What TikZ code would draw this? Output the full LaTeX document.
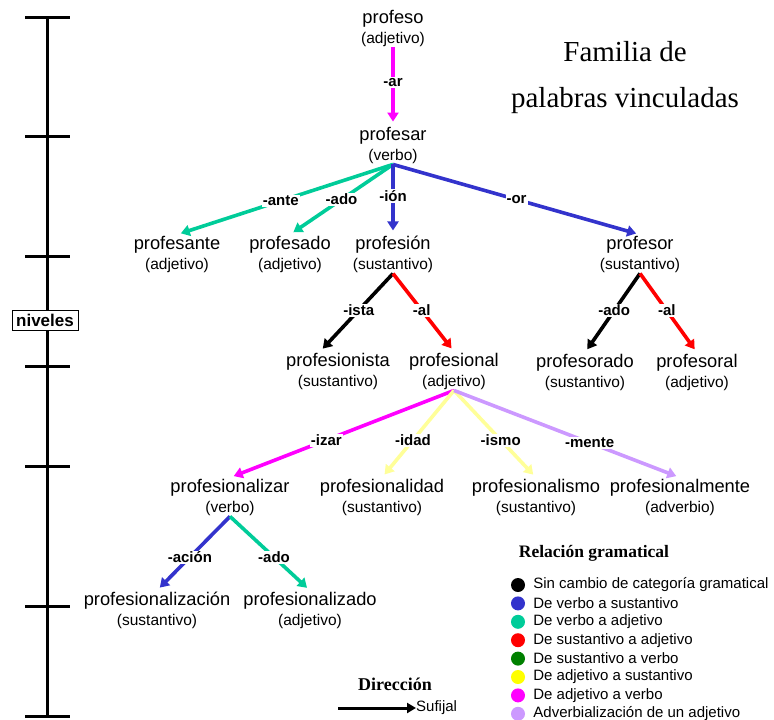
\documentclass[tikz,border=0pt]{standalone}
\usepackage{fontspec}
\setmainfont{Liberation Sans}
\newfontfamily\serif{Liberation Serif}
\usetikzlibrary{arrows.meta,positioning}
\definecolor{azul}{HTML}{3333CC}
\definecolor{turquesa}{HTML}{00CC99}
\definecolor{rojo}{HTML}{FF0000}
\definecolor{verde}{HTML}{008000}
\definecolor{amarillo}{HTML}{FFFF00}
\definecolor{amarillop}{HTML}{FFFF99}
\definecolor{magenta}{HTML}{FF00FF}
\definecolor{lila}{HTML}{CC99FF}
\newcommand{\pal}[2]{#1\\{\fontsize{15.5}{17}\selectfont (#2)}}

\begin{document}
\begin{tikzpicture}[x=1pt,y=-1pt,
    pal/.style={align=center, inner sep=1pt, font=\fontsize{18.3}{20}\selectfont},
    flecha/.style={line width=3.6pt, -{Triangle[length=9pt,width=11pt]}, shorten >=4pt},
    suf/.style={fill=white, text=black, inner sep=1pt, font=\bfseries\fontsize{15}{17}\selectfont},
    eje/.style={line width=3pt},
    dot/.style={circle, minimum size=14pt, inner sep=0pt},
    leyenda/.style={font=\fontsize{15}{17}\selectfont, inner sep=0pt}]
  \useasboundingbox (0,0) rectangle (774,720);

  \draw[eje] (47,17) -- (47,716);
  \draw[eje] (25,17) -- (70,17);
  \draw[eje] (25,136) -- (70,136);
  \draw[eje] (25,256) -- (70,256);
  \draw[eje] (25,366) -- (70,366);
  \draw[eje] (25,466) -- (70,466);
  \draw[eje] (25,606) -- (70,606);
  \draw[eje] (25,716) -- (70,716);
  \node[draw, fill=white, thin, inner xsep=4pt, inner ysep=4pt, font=\bfseries\fontsize{17}{19}\selectfont] (niveles) at (45,320) {niveles};

  \node[font=\serif\fontsize{29}{46}\selectfont, align=center] (titulo) at (625,78) {Familia de\\palabras vinculadas};

  \node[pal] (profeso) at (393,28) {\pal{profeso}{adjetivo}};
  \node[pal] (profesar) at (393,145) {\pal{profesar}{verbo}};
  \node[pal] (profesante) at (177,254) {\pal{profesante}{adjetivo}};
  \node[pal] (profesado) at (290,254) {\pal{profesado}{adjetivo}};
  \node[pal] (profesion) at (393,254) {\pal{profesión}{sustantivo}};
  \node[pal] (profesor) at (640,254) {\pal{profesor}{sustantivo}};
  \node[pal] (profesionista) at (338,371) {\pal{profesionista}{sustantivo}};
  \node[pal] (profesional) at (454,371) {\pal{profesional}{adjetivo}};
  \node[pal] (profesorado) at (585,372) {\pal{profesorado}{sustantivo}};
  \node[pal] (profesoral) at (697,372) {\pal{profesoral}{adjetivo}};
  \node[pal] (profesionalizar) at (230,497) {\pal{profesionalizar}{verbo}};
  \node[pal] (profesionalidad) at (382,497) {\pal{profesionalidad}{sustantivo}};
  \node[pal] (profesionalismo) at (536,497) {\pal{profesionalismo}{sustantivo}};
  \node[pal] (profesionalmente) at (680,497) {\pal{profesionalmente}{adverbio}};
  \node[pal] (profesionalizacion) at (157,610) {\pal{profesionalización}{sustantivo}};
  \node[pal] (profesionalizado) at (310,610) {\pal{profesionalizado}{adjetivo}};

  \draw[flecha, magenta] (profeso.south) -- node[suf, pos=.45] {-ar} (profesar.north);
  \draw[flecha, turquesa] (profesar.south) -- node[suf, pos=.52] {-ante} (profesante.north);
  \draw[flecha, turquesa] (profesar.south) -- node[suf, pos=.5] {-ado} (profesado.north);
  \draw[flecha, azul] (profesar.south) -- node[suf, pos=.45] {-ión} (profesion.north);
  \draw[flecha, azul] (profesar.south) -- node[suf, pos=.5] {-or} (profesor.north);
  \draw[flecha, black] (profesion.south) -- node[suf, pos=.47] {-ista} ([xshift=-18pt]profesionista.north);
  \draw[flecha, rojo] (profesion.south) -- node[suf, pos=.47] {-al} (profesional.north);
  \draw[flecha, black] (profesor.south) -- node[suf, pos=.47] {-ado} (profesorado.north);
  \draw[flecha, rojo] (profesor.south) -- node[suf, pos=.47] {-al} (profesoral.north);
  \draw[flecha, magenta] (profesional.south) -- node[suf, pos=.57] {-izar} (profesionalizar.north);
  \draw[flecha, amarillop] (profesional.south) -- node[suf, pos=.57] {-idad} (profesionalidad.north);
  \draw[flecha, amarillop] (profesional.south) -- node[suf, pos=.57] {-ismo} (profesionalismo.north);
  \draw[flecha, lila] (profesional.south) -- node[suf, pos=.6] {-mente} (profesionalmente.north);
  \draw[flecha, azul] (profesionalizar.south) -- node[suf, pos=.55] {-ación} (profesionalizacion.north);
  \draw[flecha, turquesa] (profesionalizar.south) -- node[suf, pos=.55] {-ado} (profesionalizado.north);

  \node[font=\serif\bfseries\fontsize{17.5}{19}\selectfont] (relacion) at (594,553) {Relación gramatical};
  \node[dot, fill=black] (d1) at (518,585) {};
  \node[dot, fill=azul, below of=d1, node distance=18.4pt] (d2) {};
  \node[dot, fill=turquesa, below of=d2, node distance=18.4pt] (d3) {};
  \node[dot, fill=rojo, below of=d3, node distance=18.4pt] (d4) {};
  \node[dot, fill=verde, below of=d4, node distance=18.4pt] (d5) {};
  \node[dot, fill=amarillo, below of=d5, node distance=18.4pt] (d6) {};
  \node[dot, fill=magenta, below of=d6, node distance=18.4pt] (d7) {};
  \node[dot, fill=lila, below of=d7, node distance=18.4pt] (d8) {};
  \node[leyenda, right=8pt of d1] (t1) {Sin cambio de categoría gramatical};
  \node[leyenda, right=8pt of d2] (t2) {De verbo a sustantivo};
  \node[leyenda, right=8pt of d3] (t3) {De verbo a adjetivo};
  \node[leyenda, right=8pt of d4] (t4) {De sustantivo a adjetivo};
  \node[leyenda, right=8pt of d5] (t5) {De sustantivo a verbo};
  \node[leyenda, right=8pt of d6] (t6) {De adjetivo a sustantivo};
  \node[leyenda, right=8pt of d7] (t7) {De adjetivo a verbo};
  \node[leyenda, right=8pt of d8] (t8) {Adverbialización de un adjetivo};

  \node[font=\serif\bfseries\fontsize{18}{20}\selectfont] (direccion) at (395,684) {Dirección};
  \coordinate (inicio) at (338,708);
  \node[leyenda, anchor=west] (sufijal) at (416,708) {Sufijal};
  \draw[line width=3pt, -{Triangle[length=9pt,width=10pt]}] (inicio) -- (sufijal.west);
\end{tikzpicture}
\end{document}
